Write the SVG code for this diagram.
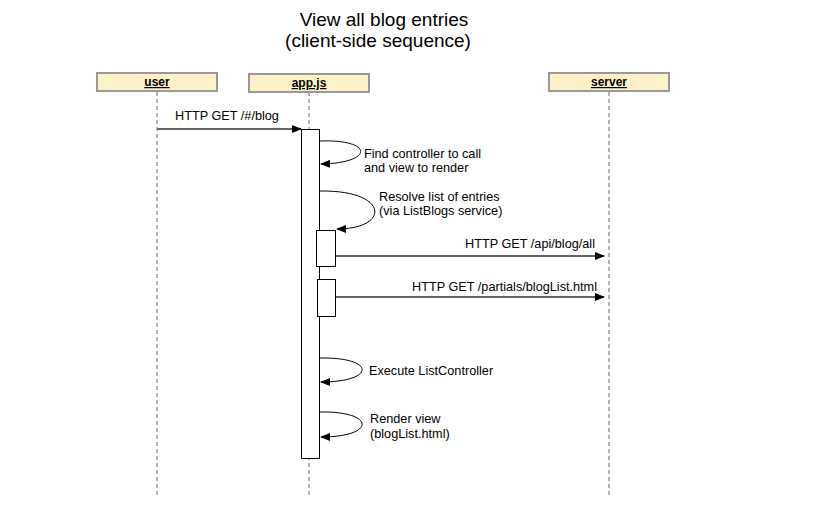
<svg xmlns="http://www.w3.org/2000/svg" width="816" height="523" viewBox="0 0 816 523">
<defs>
<marker id="ah" markerWidth="10" markerHeight="8" refX="9" refY="4" orient="auto" markerUnits="userSpaceOnUse">
<path d="M0,0 L10,4 L0,8 Z" fill="#000"/>
</marker>
<style>
text{font-family:"Liberation Sans",Arial,sans-serif;fill:#000}
.title{font-size:19px;text-anchor:middle}
.lbl{font-size:12.7px}
.head rect{fill:#fdf1c8;stroke:#999;stroke-width:2}
.head text{font-size:12px;font-weight:bold;text-anchor:middle;text-decoration:underline}
.life{stroke:#999;stroke-width:1.5;stroke-dasharray:4,3;fill:none}
.act{fill:#fff;stroke:#000;stroke-width:1}
.msg{stroke:#666;stroke-width:2;fill:none}
.loop{stroke:#000;stroke-width:1;fill:none}
</style>
</defs>
<rect width="816" height="523" fill="#fff"/>
<text class="title" x="384" y="26">View all blog entries</text>
<text class="title" x="378" y="47">(client-side sequence)</text>

<g id="user">
<line class="life" x1="157" y1="92" x2="157" y2="497"/>
<g class="head"><rect x="97" y="73" width="120" height="18"/><text x="157" y="86">user</text></g>
</g>
<g id="appjs">
<line class="life" x1="309" y1="92" x2="309" y2="497"/>
<g class="head"><rect x="249" y="74" width="120" height="18"/><text x="309" y="87">app.js</text></g>
<rect class="act" x="301.5" y="129.5" width="18" height="329"/>
<rect class="act" x="316.5" y="230.5" width="19" height="36"/>
<rect class="act" x="317.5" y="279.5" width="18" height="37"/>
</g>
<g id="server">
<line class="life" x1="609" y1="92" x2="609" y2="497"/>
<g class="head"><rect x="549" y="73" width="120" height="18"/><text x="609" y="86">server</text></g>
</g>

<g id="connectors">
<line class="msg" x1="157" y1="129" x2="301" y2="129" marker-end="url(#ah)"/>
<text class="lbl" x="175" y="120">HTTP GET /#/blog</text>

<path class="loop" d="M320,141 C374,139 374,163 321,164" marker-end="url(#ah)"/>
<text class="lbl" x="364" y="158">Find controller to call</text>
<text class="lbl" x="364" y="172">and view to render</text>

<path class="loop" d="M320,191 C390,190 390,229 337,229" marker-end="url(#ah)"/>
<text class="lbl" x="379" y="201">Resolve list of entries</text>
<text class="lbl" x="379" y="215">(via ListBlogs service)</text>

<line class="msg" x1="336" y1="256" x2="604" y2="256" marker-end="url(#ah)"/>
<text class="lbl" x="595" y="248" text-anchor="end">HTTP GET /api/blog/all</text>

<line class="msg" x1="336" y1="297" x2="604" y2="297" marker-end="url(#ah)"/>
<text class="lbl" x="597" y="291" text-anchor="end">HTTP GET /partials/blogList.html</text>

<path class="loop" d="M320,358 C376,357 376,382 321,382" marker-end="url(#ah)"/>
<text class="lbl" x="369" y="375">Execute ListController</text>

<path class="loop" d="M320,412 C376,411 376,437 321,437" marker-end="url(#ah)"/>
<text class="lbl" x="370" y="423">Render view</text>
<text class="lbl" x="370" y="438">(blogList.html)</text>
</g>
</svg>
